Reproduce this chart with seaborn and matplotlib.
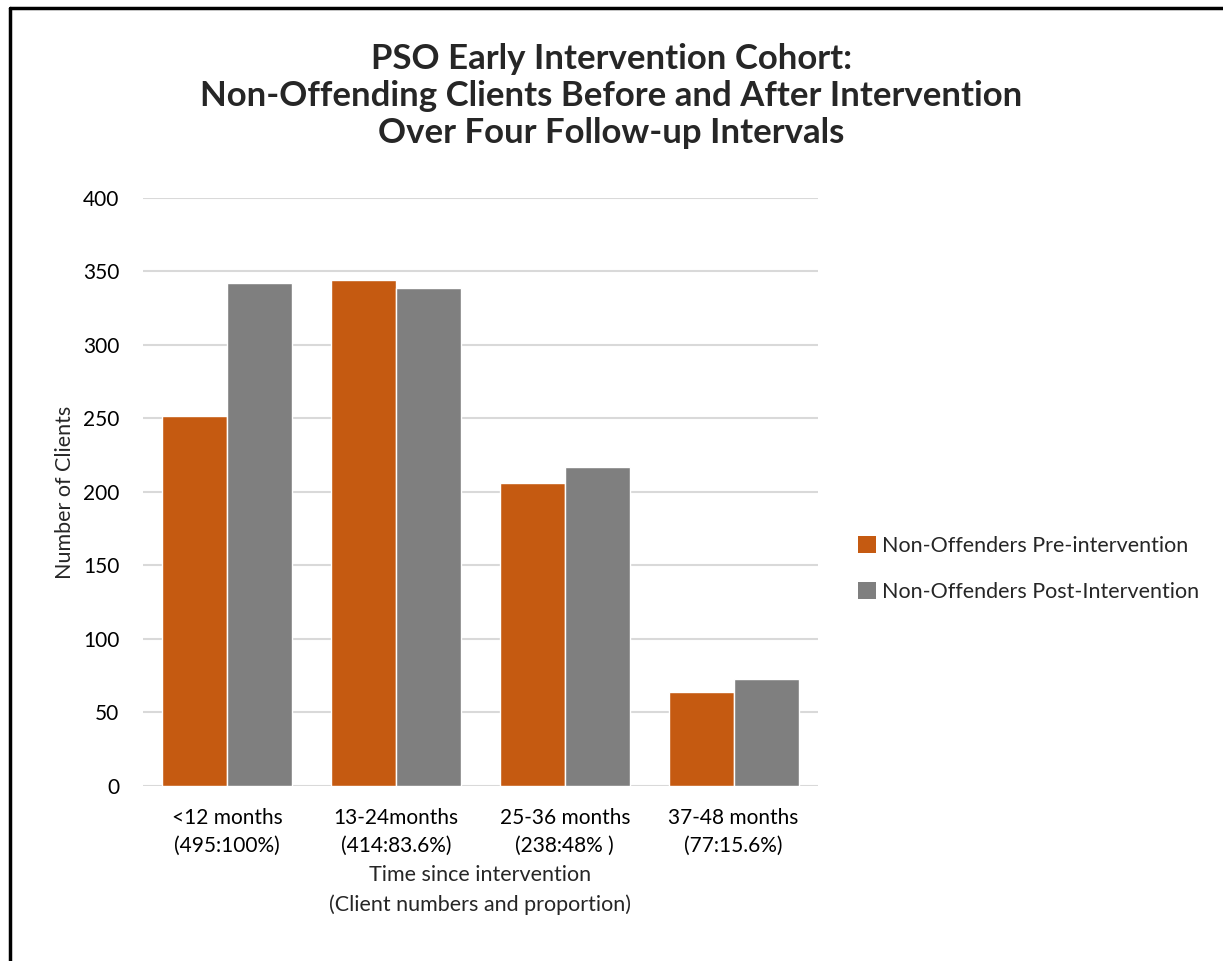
import matplotlib
matplotlib.use("Agg")
import matplotlib.pyplot as plt
import seaborn as sns
import pandas as pd
from matplotlib.lines import Line2D
from matplotlib.patches import Patch

categories = ["<12 months\n(495:100%)", "13-24months\n(414:83.6%)",
              "25-36 months\n(238:48% )", "37-48 months\n(77:15.6%)"]
pre_values = [252, 344, 206, 64]
post_values = [342, 339, 217, 73]
series = ["Non-Offenders Pre-intervention", "Non-Offenders Post-Intervention"]
colors = ["#C55A11", "#7F7F7F"]

df = pd.DataFrame({
    "period": categories * 2,
    "clients": pre_values + post_values,
    "group": [series[0]] * 4 + [series[1]] * 4,
})

sns.set_style("white")
plt.rcParams["font.family"] = ["Lato", "DejaVu Sans"]

fig = plt.figure(figsize=(12.23, 9.61), dpi=100)
ax = fig.add_axes([0.1169, 0.1821, 0.5519, 0.6119])

sns.barplot(data=df, x="period", y="clients", hue="group", palette=colors,
            width=0.77, saturation=1, ax=ax, legend=False, zorder=3)

ax.set_ylim(0, 400)
ax.set_yticks(range(0, 401, 50))
ax.set_xlim(-0.5, 3.5)
ax.grid(axis="y", color="#D9D9D9", linewidth=1.5, zorder=0)
ax.set_axisbelow(True)
for s in ax.spines.values():
    s.set_visible(False)
ax.tick_params(axis="both", length=0, labelsize=15, colors="black")
ax.tick_params(axis="y", pad=17)
ax.tick_params(axis="x", pad=16)
for lab in ax.get_xticklabels():
    lab.set_linespacing(1.45)

ax.set_ylabel("Number of Clients", fontsize=15.5, labelpad=5.5)
ax.set_xlabel("Time since intervention\n(Client numbers and proportion)",
              fontsize=15.5, labelpad=7, linespacing=1.55)

fig.text(0.5, 0.9001,
         "PSO Early Intervention Cohort:\nNon-Offending Clients Before and After Intervention\n"
         "Over Four Follow-up Intervals",
         ha="center", va="center", fontsize=25, fontweight="bold", linespacing=1.21)

handles = [Patch(facecolor=c, edgecolor="none") for c in colors]
fig.legend(handles, series, loc="center left", bbox_to_anchor=(0.686, 0.408),
           frameon=False, fontsize=15.5, handlelength=0.8, handleheight=0.8,
           handletextpad=0.3, labelspacing=1.2)

# frame lines on top and left edge
fig.add_artist(Line2D([0.0085, 1.0], [0.9917, 0.9917], color="black", linewidth=2.5,
                      transform=fig.transFigure))
fig.add_artist(Line2D([0.0085, 0.0085], [0.0, 0.9917], color="black", linewidth=2.5,
                      transform=fig.transFigure))

fig.savefig("out.png", dpi=100)
